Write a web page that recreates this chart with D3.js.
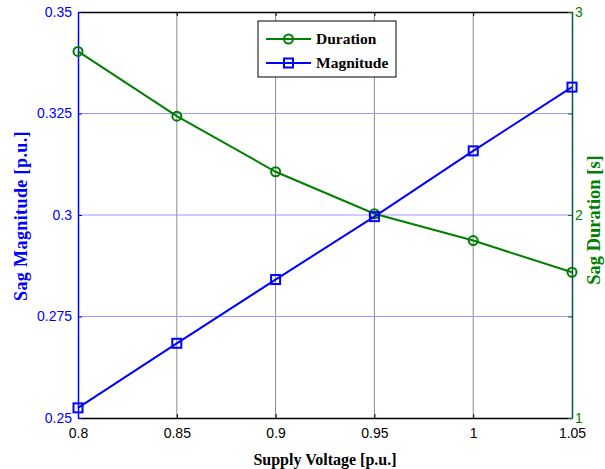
<!DOCTYPE html>
<html>
<head>
<meta charset="utf-8">
<script src="https://cdn.jsdelivr.net/npm/d3@7"></script>
<style>
  html, body { margin: 0; padding: 0; background: #fff; }
  svg { display: block; }
  .tick text { font-family: "Liberation Sans", Arial, sans-serif; font-size: 14px; }
  .title { font-family: "Liberation Serif", "Times New Roman", serif; font-weight: bold; font-size: 16px; }
  .ytitle-left { font-family: "Liberation Serif", "Times New Roman", serif; font-weight: bold; font-size: 18px; letter-spacing: 0.4px; }
  .ytitle-right { font-family: "Liberation Serif", "Times New Roman", serif; font-weight: bold; font-size: 18.5px; }
  .legend-text { font-family: "Liberation Serif", "Times New Roman", serif; font-weight: bold; font-size: 15.5px; }
</style>
</head>
<body>
<svg id="chart" width="605" height="469"></svg>
<script>
// Supply voltage sweep (p.u.)
const supplyVoltage = [0.8, 0.85, 0.9, 0.95, 1.0, 1.05];
// Sag duration (s), right axis
const sagDuration = [2.806, 2.487, 2.213, 2.006, 1.874, 1.718];
// Sag magnitude (p.u.), left axis
const sagMagnitude = [0.2525, 0.2684, 0.2841, 0.2996, 0.3158, 0.3315];

const xTicks = [0.8, 0.85, 0.9, 0.95, 1, 1.05];
const leftTicks = [0.25, 0.275, 0.3, 0.325, 0.35];
const rightTicks = [1, 1.5, 2, 2.5, 3];
const rightLabelled = [1, 2, 3];

const GREEN = "#008000", BLUE = "#0000ff";
const margin = { left: 78, right: 33, top: 12, bottom: 51 };
const W = 605, H = 469;
const svg = d3.select("#chart");

const x = d3.scaleLinear().domain([0.8, 1.05]).range([margin.left, W - margin.right]);
const yL = d3.scaleLinear().domain([0.25, 0.35]).range([H - margin.bottom, margin.top]);
const yR = d3.scaleLinear().domain([1, 3]).range([H - margin.bottom, margin.top]);

const x0 = margin.left, x1 = W - margin.right, y0 = H - margin.bottom, y1 = margin.top;

// grid: vertical grey, horizontal light blue
svg.append("g").selectAll("line").data(xTicks.slice(1, -1)).join("line")
  .attr("x1", d => x(d)).attr("x2", d => x(d)).attr("y1", y1).attr("y2", y0)
  .attr("stroke", "#8c8c8c").attr("stroke-width", 1);
svg.append("g").selectAll("line").data(leftTicks.slice(1, -1)).join("line")
  .attr("x1", x0).attr("x2", x1).attr("y1", d => yL(d)).attr("y2", d => yL(d))
  .attr("stroke", "#9999ff").attr("stroke-width", 1);

// axes
const fmt = d => String(d);
const gB = svg.append("g").attr("transform", `translate(0,${y0})`)
  .call(d3.axisBottom(x).tickValues(xTicks).tickFormat(fmt).tickSizeInner(-4).tickSizeOuter(0).tickPadding(10));
gB.select(".domain").attr("stroke", "#000").attr("stroke-width", 1.5);
gB.selectAll(".tick line").attr("stroke", "#000");
gB.selectAll(".tick text").attr("fill", "#000");

const gT = svg.append("g").attr("transform", `translate(0,${y1})`)
  .call(d3.axisTop(x).tickValues(xTicks).tickFormat("").tickSizeInner(-4).tickSizeOuter(0));
gT.select(".domain").attr("stroke", "#000").attr("stroke-width", 1.5);
gT.selectAll(".tick line").attr("stroke", "#000");

const gL = svg.append("g").attr("transform", `translate(${x0},0)`)
  .call(d3.axisLeft(yL).tickValues(leftTicks).tickFormat(fmt).tickSizeInner(-4).tickSizeOuter(0).tickPadding(6));
gL.select(".domain").attr("stroke", BLUE).attr("stroke-width", 1.5);
gL.selectAll(".tick line").attr("stroke", BLUE);
gL.selectAll(".tick text").attr("fill", BLUE);

const gR = svg.append("g").attr("transform", `translate(${x1},0)`)
  .call(d3.axisRight(yR).tickValues(rightTicks)
    .tickFormat(d => rightLabelled.includes(d) ? String(d) : "")
    .tickSizeInner(-4).tickSizeOuter(0).tickPadding(3));
gR.select(".domain").attr("stroke", "#0b4f5a").attr("stroke-width", 1.5);
gR.selectAll(".tick line").attr("stroke", GREEN);
gR.selectAll(".tick text").attr("fill", GREEN);

// series
const lineD = d3.line().x((d, i) => x(supplyVoltage[i])).y(d => yR(d));
const lineM = d3.line().x((d, i) => x(supplyVoltage[i])).y(d => yL(d));

svg.append("path").datum(sagDuration).attr("d", lineD)
  .attr("fill", "none").attr("stroke", GREEN).attr("stroke-width", 2);
svg.append("g").selectAll("circle").data(sagDuration).join("circle")
  .attr("cx", (d, i) => x(supplyVoltage[i])).attr("cy", d => yR(d)).attr("r", 4.5)
  .attr("fill", "none").attr("stroke", GREEN).attr("stroke-width", 2);

svg.append("path").datum(sagMagnitude).attr("d", lineM)
  .attr("fill", "none").attr("stroke", BLUE).attr("stroke-width", 2);
svg.append("g").selectAll("rect").data(sagMagnitude).join("rect")
  .attr("x", (d, i) => x(supplyVoltage[i]) - 4.5).attr("y", d => yL(d) - 4.5)
  .attr("width", 9).attr("height", 9)
  .attr("fill", "none").attr("stroke", BLUE).attr("stroke-width", 2);

// axis titles
svg.append("text").attr("class", "title").attr("x", (x0 + x1) / 2).attr("y", 465)
  .attr("text-anchor", "middle").attr("fill", "#000").text("Supply Voltage [p.u.]");
svg.append("text").attr("class", "ytitle-left")
  .attr("transform", `translate(27,216) rotate(-90)`)
  .attr("text-anchor", "middle").attr("fill", BLUE).text("Sag Magnitude [p.u.]");
svg.append("text").attr("class", "ytitle-right")
  .attr("transform", `translate(600,220) rotate(-90)`)
  .attr("text-anchor", "middle").attr("fill", GREEN).text("Sag Duration [s]");

// legend
const lg = svg.append("g");
lg.append("rect").attr("x", 258).attr("y", 21).attr("width", 138).attr("height", 56)
  .attr("fill", "#fff").attr("stroke", "#000").attr("stroke-width", 1);
const items = [
  { name: "Duration", color: GREEN, shape: "circle", y: 39 },
  { name: "Magnitude", color: BLUE, shape: "square", y: 63 }
];
items.forEach(it => {
  lg.append("line").attr("x1", 266).attr("x2", 311).attr("y1", it.y).attr("y2", it.y)
    .attr("stroke", it.color).attr("stroke-width", 2);
  if (it.shape === "circle") {
    lg.append("circle").attr("cx", 288.5).attr("cy", it.y).attr("r", 4.5)
      .attr("fill", "none").attr("stroke", it.color).attr("stroke-width", 2);
  } else {
    lg.append("rect").attr("x", 284).attr("y", it.y - 4.5).attr("width", 9).attr("height", 9)
      .attr("fill", "none").attr("stroke", it.color).attr("stroke-width", 2);
  }
  lg.append("text").attr("class", "legend-text").attr("x", 316).attr("y", it.y + 5)
    .attr("fill", "#000").text(it.name);
});
</script>
</body>
</html>
